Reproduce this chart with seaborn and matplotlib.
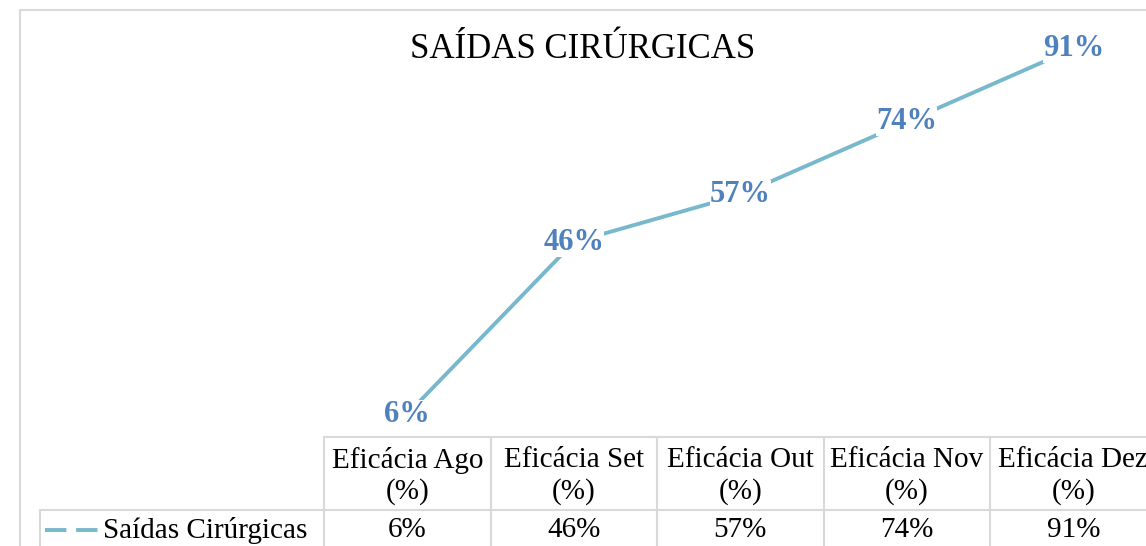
import matplotlib
matplotlib.use("Agg")
from matplotlib import pyplot as plt
from matplotlib.lines import Line2D
import seaborn as sns
import pandas as pd

title = "SAÍDAS CIRÚRGICAS"
series_name = "Saídas Cirúrgicas"
headers = ["Eficácia Ago", "Eficácia Set", "Eficácia Out", "Eficácia Nov", "Eficácia Dez"]
values = [6, 46, 57, 74, 91]

W, H = 1146, 546
LINE = "#78B8CC"
LABEL = "#4F81BD"
GRID = "#D9D9D9"

sns.set_style("white")
plt.rcParams["font.family"] = ["Liberation Serif", "DejaVu Serif"]
plt.rcParams["text.color"] = "black"

fig = plt.figure(figsize=(W / 100, H / 100), dpi=100)


def fx(x):
    return x / W


def fy(y):
    return 1 - y / H


def fline(x0, y0, x1, y1):
    fig.add_artist(Line2D([fx(x0), fx(x1)], [fy(y0), fy(y1)], color=GRID,
                          linewidth=1.5, transform=fig.transFigure))


# plot area: columns of the data table are 166.5 px wide, starting at x=324
col_w = 166.5
left = 324
ax = fig.add_axes([fx(left), fy(440), 1 - fx(left), (440 - 10) / H])
ax.set_xlim(-0.5, -0.5 + (W - left) / col_w)
ax.set_ylim(0, 100)
ax.axis("off")

df = pd.DataFrame({"x": range(len(values)), "valor": values})
sns.lineplot(data=df, x="x", y="valor", ax=ax, color=LINE, linewidth=2.8)

for i, v in enumerate(values):
    ax.text(i, v, f"{v}%", ha="center", va="center", fontsize=22, fontweight="bold",
            color=LABEL, bbox=dict(facecolor="white", edgecolor="none", pad=0.1), zorder=5)

fig.text(fx(583), fy(50), title, ha="center", va="center", fontsize=25, color="black")

# chart frame
fline(20, 10, W, 10)
fline(20, 10, 20, H)

# data table
fline(left, 437, W, 437)
fline(40, 510, W, 510)
for k in range(len(headers)):
    x = left + k * col_w
    fline(x, 437, x, H)
fline(40, 510, 40, H)

for k, h in enumerate(headers):
    cx = left + (k + 0.5) * col_w
    fig.text(fx(cx), fy(460), h, ha="center", va="center", fontsize=21)
    fig.text(fx(cx), fy(492), "(%)", ha="center", va="center", fontsize=21)
    fig.text(fx(cx), fy(530), f"{values[k]}%", ha="center", va="center", fontsize=21)

fig.add_artist(Line2D([fx(45), fx(101)], [fy(530), fy(530)], color=LINE, linewidth=2.8,
                      linestyle=(0, (5.5, 2.5)), transform=fig.transFigure))
fig.text(fx(103), fy(530), series_name, ha="left", va="center", fontsize=21)

fig.savefig("out.png", dpi=100, facecolor="white")
